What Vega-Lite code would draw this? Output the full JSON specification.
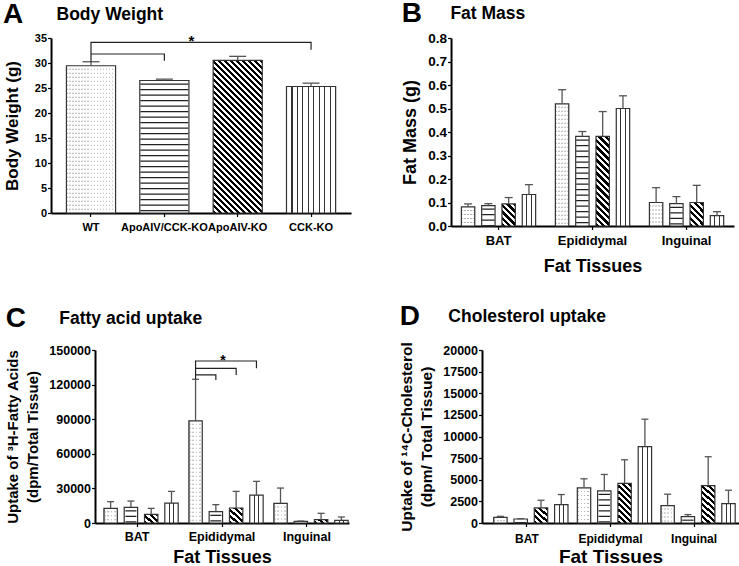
{
  "$schema": "https://vega.github.io/schema/vega-lite/v6.json",
  "background": "white",
  "padding": {"left": 3, "top": 0, "right": 0, "bottom": 0},
  "params": [
    {
      "name": "stripes",
      "value": [
        {"offset": 0, "color": "#000"}, {"offset": 0.01, "color": "#000"}, {"offset": 0.01, "color": "#fff"}, {"offset": 0.02, "color": "#fff"},
        {"offset": 0.02, "color": "#000"}, {"offset": 0.03, "color": "#000"}, {"offset": 0.03, "color": "#fff"}, {"offset": 0.04, "color": "#fff"},
        {"offset": 0.04, "color": "#000"}, {"offset": 0.05, "color": "#000"}, {"offset": 0.05, "color": "#fff"}, {"offset": 0.06, "color": "#fff"},
        {"offset": 0.06, "color": "#000"}, {"offset": 0.07, "color": "#000"}, {"offset": 0.07, "color": "#fff"}, {"offset": 0.08, "color": "#fff"},
        {"offset": 0.08, "color": "#000"}, {"offset": 0.09, "color": "#000"}, {"offset": 0.09, "color": "#fff"}, {"offset": 0.1, "color": "#fff"},
        {"offset": 0.1, "color": "#000"}, {"offset": 0.11, "color": "#000"}, {"offset": 0.11, "color": "#fff"}, {"offset": 0.12, "color": "#fff"},
        {"offset": 0.12, "color": "#000"}, {"offset": 0.13, "color": "#000"}, {"offset": 0.13, "color": "#fff"}, {"offset": 0.14, "color": "#fff"},
        {"offset": 0.14, "color": "#000"}, {"offset": 0.15, "color": "#000"}, {"offset": 0.15, "color": "#fff"}, {"offset": 0.16, "color": "#fff"},
        {"offset": 0.16, "color": "#000"}, {"offset": 0.17, "color": "#000"}, {"offset": 0.17, "color": "#fff"}, {"offset": 0.18, "color": "#fff"},
        {"offset": 0.18, "color": "#000"}, {"offset": 0.19, "color": "#000"}, {"offset": 0.19, "color": "#fff"}, {"offset": 0.2, "color": "#fff"},
        {"offset": 0.2, "color": "#000"}, {"offset": 0.21, "color": "#000"}, {"offset": 0.21, "color": "#fff"}, {"offset": 0.22, "color": "#fff"},
        {"offset": 0.22, "color": "#000"}, {"offset": 0.23, "color": "#000"}, {"offset": 0.23, "color": "#fff"}, {"offset": 0.24, "color": "#fff"},
        {"offset": 0.24, "color": "#000"}, {"offset": 0.25, "color": "#000"}, {"offset": 0.25, "color": "#fff"}, {"offset": 0.26, "color": "#fff"},
        {"offset": 0.26, "color": "#000"}, {"offset": 0.27, "color": "#000"}, {"offset": 0.27, "color": "#fff"}, {"offset": 0.28, "color": "#fff"},
        {"offset": 0.28, "color": "#000"}, {"offset": 0.29, "color": "#000"}, {"offset": 0.29, "color": "#fff"}, {"offset": 0.3, "color": "#fff"},
        {"offset": 0.3, "color": "#000"}, {"offset": 0.31, "color": "#000"}, {"offset": 0.31, "color": "#fff"}, {"offset": 0.32, "color": "#fff"},
        {"offset": 0.32, "color": "#000"}, {"offset": 0.33, "color": "#000"}, {"offset": 0.33, "color": "#fff"}, {"offset": 0.34, "color": "#fff"},
        {"offset": 0.34, "color": "#000"}, {"offset": 0.35, "color": "#000"}, {"offset": 0.35, "color": "#fff"}, {"offset": 0.36, "color": "#fff"},
        {"offset": 0.36, "color": "#000"}, {"offset": 0.37, "color": "#000"}, {"offset": 0.37, "color": "#fff"}, {"offset": 0.38, "color": "#fff"},
        {"offset": 0.38, "color": "#000"}, {"offset": 0.39, "color": "#000"}, {"offset": 0.39, "color": "#fff"}, {"offset": 0.4, "color": "#fff"},
        {"offset": 0.4, "color": "#000"}, {"offset": 0.41, "color": "#000"}, {"offset": 0.41, "color": "#fff"}, {"offset": 0.42, "color": "#fff"},
        {"offset": 0.42, "color": "#000"}, {"offset": 0.43, "color": "#000"}, {"offset": 0.43, "color": "#fff"}, {"offset": 0.44, "color": "#fff"},
        {"offset": 0.44, "color": "#000"}, {"offset": 0.45, "color": "#000"}, {"offset": 0.45, "color": "#fff"}, {"offset": 0.46, "color": "#fff"},
        {"offset": 0.46, "color": "#000"}, {"offset": 0.47, "color": "#000"}, {"offset": 0.47, "color": "#fff"}, {"offset": 0.48, "color": "#fff"},
        {"offset": 0.48, "color": "#000"}, {"offset": 0.49, "color": "#000"}, {"offset": 0.49, "color": "#fff"}, {"offset": 0.5, "color": "#fff"},
        {"offset": 0.5, "color": "#000"}, {"offset": 0.51, "color": "#000"}, {"offset": 0.51, "color": "#fff"}, {"offset": 0.52, "color": "#fff"},
        {"offset": 0.52, "color": "#000"}, {"offset": 0.53, "color": "#000"}, {"offset": 0.53, "color": "#fff"}, {"offset": 0.54, "color": "#fff"},
        {"offset": 0.54, "color": "#000"}, {"offset": 0.55, "color": "#000"}, {"offset": 0.55, "color": "#fff"}, {"offset": 0.56, "color": "#fff"},
        {"offset": 0.56, "color": "#000"}, {"offset": 0.57, "color": "#000"}, {"offset": 0.57, "color": "#fff"}, {"offset": 0.58, "color": "#fff"},
        {"offset": 0.58, "color": "#000"}, {"offset": 0.59, "color": "#000"}, {"offset": 0.59, "color": "#fff"}, {"offset": 0.6, "color": "#fff"},
        {"offset": 0.6, "color": "#000"}, {"offset": 0.61, "color": "#000"}, {"offset": 0.61, "color": "#fff"}, {"offset": 0.62, "color": "#fff"},
        {"offset": 0.62, "color": "#000"}, {"offset": 0.63, "color": "#000"}, {"offset": 0.63, "color": "#fff"}, {"offset": 0.64, "color": "#fff"},
        {"offset": 0.64, "color": "#000"}, {"offset": 0.65, "color": "#000"}, {"offset": 0.65, "color": "#fff"}, {"offset": 0.66, "color": "#fff"},
        {"offset": 0.66, "color": "#000"}, {"offset": 0.67, "color": "#000"}, {"offset": 0.67, "color": "#fff"}, {"offset": 0.68, "color": "#fff"},
        {"offset": 0.68, "color": "#000"}, {"offset": 0.69, "color": "#000"}, {"offset": 0.69, "color": "#fff"}, {"offset": 0.7, "color": "#fff"},
        {"offset": 0.7, "color": "#000"}, {"offset": 0.71, "color": "#000"}, {"offset": 0.71, "color": "#fff"}, {"offset": 0.72, "color": "#fff"},
        {"offset": 0.72, "color": "#000"}, {"offset": 0.73, "color": "#000"}, {"offset": 0.73, "color": "#fff"}, {"offset": 0.74, "color": "#fff"},
        {"offset": 0.74, "color": "#000"}, {"offset": 0.75, "color": "#000"}, {"offset": 0.75, "color": "#fff"}, {"offset": 0.76, "color": "#fff"},
        {"offset": 0.76, "color": "#000"}, {"offset": 0.77, "color": "#000"}, {"offset": 0.77, "color": "#fff"}, {"offset": 0.78, "color": "#fff"},
        {"offset": 0.78, "color": "#000"}, {"offset": 0.79, "color": "#000"}, {"offset": 0.79, "color": "#fff"}, {"offset": 0.8, "color": "#fff"},
        {"offset": 0.8, "color": "#000"}, {"offset": 0.81, "color": "#000"}, {"offset": 0.81, "color": "#fff"}, {"offset": 0.82, "color": "#fff"},
        {"offset": 0.82, "color": "#000"}, {"offset": 0.83, "color": "#000"}, {"offset": 0.83, "color": "#fff"}, {"offset": 0.84, "color": "#fff"},
        {"offset": 0.84, "color": "#000"}, {"offset": 0.85, "color": "#000"}, {"offset": 0.85, "color": "#fff"}, {"offset": 0.86, "color": "#fff"},
        {"offset": 0.86, "color": "#000"}, {"offset": 0.87, "color": "#000"}, {"offset": 0.87, "color": "#fff"}, {"offset": 0.88, "color": "#fff"},
        {"offset": 0.88, "color": "#000"}, {"offset": 0.89, "color": "#000"}, {"offset": 0.89, "color": "#fff"}, {"offset": 0.9, "color": "#fff"},
        {"offset": 0.9, "color": "#000"}, {"offset": 0.91, "color": "#000"}, {"offset": 0.91, "color": "#fff"}, {"offset": 0.92, "color": "#fff"},
        {"offset": 0.92, "color": "#000"}, {"offset": 0.93, "color": "#000"}, {"offset": 0.93, "color": "#fff"}, {"offset": 0.94, "color": "#fff"},
        {"offset": 0.94, "color": "#000"}, {"offset": 0.95, "color": "#000"}, {"offset": 0.95, "color": "#fff"}, {"offset": 0.96, "color": "#fff"},
        {"offset": 0.96, "color": "#000"}, {"offset": 0.97, "color": "#000"}, {"offset": 0.97, "color": "#fff"}, {"offset": 0.98, "color": "#fff"},
        {"offset": 0.98, "color": "#000"}, {"offset": 0.99, "color": "#000"}, {"offset": 0.99, "color": "#fff"}, {"offset": 1, "color": "#fff"}
      ]
    }
  ],
  "datasets": {
    "bw": [
      {"g": "WT", "mean": 29.45, "upper": 30.25},
      {"g": "ApoAIV/CCK-KO", "mean": 26.5, "upper": 26.77},
      {"g": "ApoAIV-KO", "mean": 30.52, "upper": 31.33},
      {"g": "CCK-KO", "mean": 25.3, "upper": 25.97}
    ],
    "bwBr": [
      {"b": 1, "o": 0, "g": "WT", "v": 30.25},
      {"b": 1, "o": 1, "g": "WT", "v": 34.14},
      {"b": 1, "o": 2, "g": "CCK-KO", "v": 34.14},
      {"b": 1, "o": 3, "g": "CCK-KO", "v": 32.67},
      {"b": 2, "o": 0, "g": "WT", "v": 31.8},
      {"b": 2, "o": 1, "g": "ApoAIV/CCK-KO", "v": 31.8},
      {"b": 2, "o": 2, "g": "ApoAIV/CCK-KO", "v": 30.46}
    ],
    "bwStar": [{"g": "ApoAIV/CCK-KO", "v": 34.14, "label": "*"}],
    "fm": [
      {"t": "BAT", "g": "WT", "mean": 0.081, "upper": 0.094},
      {"t": "BAT", "g": "ApoAIV/CCK-KO", "mean": 0.087, "upper": 0.095},
      {"t": "BAT", "g": "ApoAIV-KO", "mean": 0.094, "upper": 0.121},
      {"t": "BAT", "g": "CCK-KO", "mean": 0.134, "upper": 0.176},
      {"t": "Epididymal", "g": "WT", "mean": 0.52, "upper": 0.58},
      {"t": "Epididymal", "g": "ApoAIV/CCK-KO", "mean": 0.381, "upper": 0.402},
      {"t": "Epididymal", "g": "ApoAIV-KO", "mean": 0.381, "upper": 0.487},
      {"t": "Epididymal", "g": "CCK-KO", "mean": 0.5, "upper": 0.554},
      {"t": "Inguinal", "g": "WT", "mean": 0.1, "upper": 0.163},
      {"t": "Inguinal", "g": "ApoAIV/CCK-KO", "mean": 0.095, "upper": 0.125},
      {"t": "Inguinal", "g": "ApoAIV-KO", "mean": 0.1, "upper": 0.173},
      {"t": "Inguinal", "g": "CCK-KO", "mean": 0.044, "upper": 0.061}
    ],
    "fa": [
      {"t": "BAT", "g": "WT", "mean": 12700, "upper": 18500},
      {"t": "BAT", "g": "ApoAIV/CCK-KO", "mean": 13600, "upper": 19000},
      {"t": "BAT", "g": "ApoAIV-KO", "mean": 7500, "upper": 12700},
      {"t": "BAT", "g": "CCK-KO", "mean": 17300, "upper": 27400},
      {"t": "Epididymal", "g": "WT", "mean": 88600, "upper": 124600},
      {"t": "Epididymal", "g": "ApoAIV/CCK-KO", "mean": 9800, "upper": 15900},
      {"t": "Epididymal", "g": "ApoAIV-KO", "mean": 13000, "upper": 27400},
      {"t": "Epididymal", "g": "CCK-KO", "mean": 24200, "upper": 36100},
      {"t": "Inguinal", "g": "WT", "mean": 17000, "upper": 30300},
      {"t": "Inguinal", "g": "ApoAIV/CCK-KO", "mean": 1400, "upper": 1700},
      {"t": "Inguinal", "g": "ApoAIV-KO", "mean": 2900, "upper": 8400},
      {"t": "Inguinal", "g": "CCK-KO", "mean": 2300, "upper": 5200}
    ],
    "faBr": [
      {"b": 1, "o": 0, "t": "Epididymal", "g": "WT", "v": 124600},
      {"b": 1, "o": 1, "t": "Epididymal", "g": "WT", "v": 140480},
      {"b": 1, "o": 2, "t": "Epididymal", "g": "CCK-KO", "v": 140480},
      {"b": 1, "o": 3, "t": "Epididymal", "g": "CCK-KO", "v": 134100},
      {"b": 2, "o": 0, "t": "Epididymal", "g": "WT", "v": 134100},
      {"b": 2, "o": 1, "t": "Epididymal", "g": "ApoAIV-KO", "v": 134100},
      {"b": 2, "o": 2, "t": "Epididymal", "g": "ApoAIV-KO", "v": 128400},
      {"b": 3, "o": 0, "t": "Epididymal", "g": "WT", "v": 128400},
      {"b": 3, "o": 1, "t": "Epididymal", "g": "ApoAIV/CCK-KO", "v": 128400},
      {"b": 3, "o": 2, "t": "Epididymal", "g": "ApoAIV/CCK-KO", "v": 124000}
    ],
    "faStar": [{"t": "Epididymal", "g": "ApoAIV/CCK-KO", "v": 140480, "label": "*"}],
    "ch": [
      {"t": "BAT", "g": "WT", "mean": 660, "upper": 770},
      {"t": "BAT", "g": "ApoAIV/CCK-KO", "mean": 460, "upper": 500},
      {"t": "BAT", "g": "ApoAIV-KO", "mean": 1740, "upper": 2630},
      {"t": "BAT", "g": "CCK-KO", "mean": 2130, "upper": 3290},
      {"t": "Epididymal", "g": "WT", "mean": 4060, "upper": 5110},
      {"t": "Epididymal", "g": "ApoAIV/CCK-KO", "mean": 3720, "upper": 5610},
      {"t": "Epididymal", "g": "ApoAIV-KO", "mean": 4570, "upper": 7310},
      {"t": "Epididymal", "g": "CCK-KO", "mean": 8820, "upper": 12000},
      {"t": "Inguinal", "g": "WT", "mean": 2010, "upper": 3330},
      {"t": "Inguinal", "g": "ApoAIV/CCK-KO", "mean": 740, "upper": 970},
      {"t": "Inguinal", "g": "ApoAIV-KO", "mean": 4330, "upper": 7660},
      {"t": "Inguinal", "g": "CCK-KO", "mean": 2250, "upper": 3790}
    ]
  },
  "config": {
    "view": {"stroke": null},
    "font": "Liberation Sans",
    "axis": {
      "grid": false, "domainColor": "#000", "domainWidth": 2, "tickColor": "#000", "tickWidth": 1.2, "tickSize": 3.5,
      "labelFont": "Liberation Sans", "labelFontWeight": "bold", "labelColor": "#000", "labelPadding": 1,
      "titleFont": "Liberation Sans", "titleFontWeight": "bold", "titleColor": "#000"
    },
    "axisX": {"labelAngle": 0},
    "title": {
      "font": "Liberation Sans", "fontWeight": "bold", "fontSize": 28, "color": "#000",
      "subtitleFont": "Liberation Sans", "subtitleFontWeight": "bold", "subtitleFontSize": 17.5, "subtitleColor": "#000",
      "anchor": "start", "frame": "bounds", "subtitlePadding": -23, "offset": 3, "limit": 2000
    }
  },
  "center": true,
  "spacing": 26,
  "vconcat": [
    {
      "spacing": 50,
      "hconcat": [
        {
          "width": 300, "height": 175,
          "title": {"text": "A", "subtitle": "\u200b\u00a0\u00a0\u00a0\u00a0\u00a0\u00a0\u00a0\u00a0\u00a0\u00a0\u00a0Body Weight"},
          "data": {"name": "bw"},
          "encoding": {
            "x": {"field": "g", "type": "nominal", "scale": {"domain": ["WT", "ApoAIV/CCK-KO", "ApoAIV-KO", "CCK-KO"], "paddingInner": 0.33, "paddingOuter": 0.21}, "axis": {"title": null, "labelFontSize": 11, "labelPadding": 5}},
            "y": {"field": "mean", "type": "quantitative", "title": "Body Weight (g)", "scale": {"domain": [0, 35]}, "axis": {"values": [0, 5, 10, 15, 20, 25, 30, 35], "format": "d", "labelFontSize": 11, "titleFontSize": 17, "titlePadding": 14, "titleX": -30, "titleY": 87.5}}
          },
          "layer": [
            {"mark": {"type": "bar", "fill": "white"}},
            {"transform": [{"filter": "datum.g === 'WT'"}], "mark": {"type": "bar", "fill": {"expr": "{gradient:'linear',x1:0,y1:0,x2:150/49,y2:0,stops:stripes}"}, "fillOpacity": 0.3}},
            {"transform": [{"filter": "datum.g === 'WT'"}], "mark": {"type": "rule", "stroke": "white", "strokeWidth": 48, "strokeDash": [3, 1]}, "encoding": {"y2": {"datum": 0}}},
            {"transform": [{"filter": "datum.g === 'ApoAIV/CCK-KO'"}], "mark": {"type": "rule", "stroke": "#222", "strokeWidth": 48, "strokeDash": [1.2, 4.3], "strokeDashOffset": -3}, "encoding": {"y2": {"datum": 0}}},
            {"transform": [{"filter": "datum.g === 'ApoAIV-KO'"}], "mark": {"type": "bar", "fill": {"expr": "{gradient:'linear',x1:0,y1:1,x2:49*300/(2401+pow(datum.mean*5,2)),y2:1-datum.mean*5*300/(2401+pow(datum.mean*5,2)),stops:stripes}"}}},
            {"transform": [{"filter": "datum.g === 'CCK-KO'"}], "mark": {"type": "bar", "fill": {"gradient": "linear", "x1": 0, "y1": 0, "x2": 1, "y2": 0, "stops": [
              {"offset": 0, "color": "#fff"}, {"offset": 0.099, "color": "#fff"}, {"offset": 0.099, "color": "#333"}, {"offset": 0.123, "color": "#333"},
              {"offset": 0.123, "color": "#fff"}, {"offset": 0.21, "color": "#fff"}, {"offset": 0.21, "color": "#333"}, {"offset": 0.234, "color": "#333"},
              {"offset": 0.234, "color": "#fff"}, {"offset": 0.321, "color": "#fff"}, {"offset": 0.321, "color": "#333"}, {"offset": 0.345, "color": "#333"},
              {"offset": 0.345, "color": "#fff"}, {"offset": 0.432, "color": "#fff"}, {"offset": 0.432, "color": "#333"}, {"offset": 0.456, "color": "#333"},
              {"offset": 0.456, "color": "#fff"}, {"offset": 0.544, "color": "#fff"}, {"offset": 0.544, "color": "#333"}, {"offset": 0.568, "color": "#333"},
              {"offset": 0.568, "color": "#fff"}, {"offset": 0.655, "color": "#fff"}, {"offset": 0.655, "color": "#333"}, {"offset": 0.679, "color": "#333"},
              {"offset": 0.679, "color": "#fff"}, {"offset": 0.766, "color": "#fff"}, {"offset": 0.766, "color": "#333"}, {"offset": 0.79, "color": "#333"},
              {"offset": 0.79, "color": "#fff"}, {"offset": 0.877, "color": "#fff"}, {"offset": 0.877, "color": "#333"}, {"offset": 0.901, "color": "#333"},
              {"offset": 0.901, "color": "#fff"}, {"offset": 1, "color": "#fff"}]}}},
            {"mark": {"type": "bar", "fillOpacity": 0, "stroke": "#333", "strokeWidth": 1.2}},
            {"mark": {"type": "rule", "stroke": "#555", "strokeWidth": 1.3}, "encoding": {"y": {"field": "upper", "type": "quantitative", "title": "Body Weight (g)"}, "y2": {"field": "mean"}}},
            {"mark": {"type": "tick", "color": "#555", "thickness": 1.3, "size": 17, "opacity": 1}, "encoding": {"y": {"field": "upper", "type": "quantitative", "title": "Body Weight (g)"}}},
            {"data": {"name": "bwBr"}, "mark": {"type": "line", "color": "#222", "strokeWidth": 1.2}, "encoding": {"y": {"field": "v", "type": "quantitative", "title": "Body Weight (g)"}, "detail": {"field": "b", "type": "nominal"}, "order": {"field": "o", "type": "quantitative"}}},
            {"data": {"name": "bwStar"}, "mark": {"type": "text", "fontSize": 15, "fontWeight": "bold", "dx": 27, "dy": 4, "baseline": "alphabetic", "color": "#000"}, "encoding": {"y": {"field": "v", "type": "quantitative", "title": "Body Weight (g)"}, "text": {"field": "label"}}}
          ]
        },
        {
          "width": 283, "height": 188,
          "title": {"text": "B", "subtitle": "\u200b\u00a0\u00a0\u00a0\u00a0\u00a0\u00a0\u00a0\u00a0\u00a0\u00a0Fat Mass\u00a0\u00a0\u00a0\u00a0\u00a0\u00a0\u00a0\u00a0\u00a0\u00a0\u00a0\u00a0\u00a0\u00a0\u00a0\u00a0\u00a0\u00a0\u00a0\u00a0\u00a0\u00a0\u00a0\u00a0\u00a0\u00a0\u00a0\u00a0\u00a0\u00a0\u00a0\u00a0\u00a0\u00a0\u00a0\u00a0\u00a0\u00a0\u00a0\u00a0\u00a0\u00a0\u00a0\u00a0\u00a0\u00a0\u00a0\u00a0\u00a0\u00a0\u00a0\u00a0\u00a0\u200b"},
          "data": {"name": "fm"},
          "encoding": {
            "x": {"field": "t", "type": "nominal", "scale": {"domain": ["BAT", "Epididymal", "Inguinal"], "paddingInner": 0.21, "paddingOuter": 0.11}, "axis": {"title": "Fat Tissues", "labelFontSize": 13, "labelPadding": 5, "titleFontSize": 18, "titlePadding": 10}},
            "xOffset": {"field": "g", "type": "nominal", "scale": {"domain": ["WT", "ApoAIV/CCK-KO", "ApoAIV-KO", "CCK-KO"], "paddingInner": 0.34, "paddingOuter": 0}},
            "y": {"field": "mean", "type": "quantitative", "title": "Fat Mass (g)", "scale": {"domain": [0, 0.8]}, "axis": {"values": [0, 0.1, 0.2, 0.3, 0.4, 0.5, 0.6, 0.7, 0.8], "format": ".1f", "labelFontSize": 13.5, "titleFontSize": 18, "titlePadding": 8}}
          },
          "layer": [
            {"mark": {"type": "bar", "fill": "white"}},
            {"transform": [{"filter": "datum.g === 'WT'"}], "mark": {"type": "bar", "fill": {"expr": "{gradient:'linear',x1:0,y1:0,x2:150/13.4,y2:0,stops:stripes}"}, "fillOpacity": 0.3}},
            {"transform": [{"filter": "datum.g === 'WT'"}], "mark": {"type": "rule", "stroke": "white", "strokeWidth": 12.5, "strokeDash": [3, 1]}, "encoding": {"y2": {"datum": 0}}},
            {"transform": [{"filter": "datum.g === 'ApoAIV/CCK-KO'"}], "mark": {"type": "rule", "stroke": "#222", "strokeWidth": 12.5, "strokeDash": [1.2, 4.3], "strokeDashOffset": -3}, "encoding": {"y2": {"datum": 0}}},
            {"transform": [{"filter": "datum.g === 'ApoAIV-KO'"}], "mark": {"type": "bar", "fill": {"expr": "{gradient:'linear',x1:0,y1:1,x2:13.4*325/(179.56+pow(datum.mean*235,2)),y2:1-datum.mean*235*325/(179.56+pow(datum.mean*235,2)),stops:stripes}"}}},
            {"transform": [{"filter": "datum.g === 'CCK-KO'"}], "mark": {"type": "bar", "fill": {"gradient": "linear", "x1": 0, "y1": 0, "x2": 1, "y2": 0, "stops": [
              {"offset": 0, "color": "#fff"}, {"offset": 0.3, "color": "#fff"}, {"offset": 0.3, "color": "#333"}, {"offset": 0.37, "color": "#333"},
              {"offset": 0.37, "color": "#fff"}, {"offset": 0.63, "color": "#fff"}, {"offset": 0.63, "color": "#333"}, {"offset": 0.7, "color": "#333"},
              {"offset": 0.7, "color": "#fff"}, {"offset": 1, "color": "#fff"}]}}},
            {"mark": {"type": "bar", "fillOpacity": 0, "stroke": "#333", "strokeWidth": 1.2}},
            {"mark": {"type": "rule", "stroke": "#555", "strokeWidth": 1.3}, "encoding": {"y": {"field": "upper", "type": "quantitative", "title": "Fat Mass (g)"}, "y2": {"field": "mean"}}},
            {"mark": {"type": "tick", "color": "#555", "thickness": 1.3, "size": 8, "opacity": 1}, "encoding": {"y": {"field": "upper", "type": "quantitative", "title": "Fat Mass (g)"}}}
          ]
        }
      ]
    },
    {
      "spacing": 50,
      "hconcat": [
        {
          "width": 254, "height": 173,
          "title": {"text": "C", "subtitle": "\u200b\u00a0\u00a0\u00a0\u00a0\u00a0\u00a0\u00a0\u00a0\u00a0\u00a0\u00a0Fatty acid uptake", "offset": 11},
          "data": {"name": "fa"},
          "encoding": {
            "x": {"field": "t", "type": "nominal", "scale": {"domain": ["BAT", "Epididymal", "Inguinal"], "paddingInner": 0.22, "paddingOuter": 0.105}, "axis": {"title": "Fat Tissues", "labelFontSize": 12.5, "labelPadding": 4, "titleFontSize": 18, "titlePadding": 5}},
            "xOffset": {"field": "g", "type": "nominal", "scale": {"domain": ["WT", "ApoAIV/CCK-KO", "ApoAIV-KO", "CCK-KO"], "paddingInner": 0.35, "paddingOuter": 0}},
            "y": {"field": "mean", "type": "quantitative", "title": ["Uptake of \u00b3H-Fatty Acids", "(dpm/Total Tissue)"], "scale": {"domain": [0, 150000]}, "axis": {"values": [0, 30000, 60000, 90000, 120000, 150000], "format": "d", "labelFontSize": 12.5, "titleFontSize": 15, "titleLineHeight": 20, "titlePadding": 8}}
          },
          "layer": [
            {"mark": {"type": "bar", "fill": "white"}},
            {"transform": [{"filter": "datum.g === 'WT'"}], "mark": {"type": "bar", "fill": {"expr": "{gradient:'linear',x1:0,y1:0,x2:150/11.75,y2:0,stops:stripes}"}, "fillOpacity": 0.3}},
            {"transform": [{"filter": "datum.g === 'WT'"}], "mark": {"type": "rule", "stroke": "white", "strokeWidth": 11, "strokeDash": [3, 1]}, "encoding": {"y2": {"datum": 0}}},
            {"transform": [{"filter": "datum.g === 'ApoAIV/CCK-KO'"}], "mark": {"type": "rule", "stroke": "#222", "strokeWidth": 11, "strokeDash": [1.2, 4.3], "strokeDashOffset": -3}, "encoding": {"y2": {"datum": 0}}},
            {"transform": [{"filter": "datum.g === 'ApoAIV-KO'"}], "mark": {"type": "bar", "fill": {"expr": "{gradient:'linear',x1:0,y1:1,x2:11.75*300/(138.06+pow(datum.mean*0.0011533,2)),y2:1-datum.mean*0.0011533*300/(138.06+pow(datum.mean*0.0011533,2)),stops:stripes}"}}},
            {"transform": [{"filter": "datum.g === 'CCK-KO'"}], "mark": {"type": "bar", "fill": {"gradient": "linear", "x1": 0, "y1": 0, "x2": 1, "y2": 0, "stops": [
              {"offset": 0, "color": "#fff"}, {"offset": 0.3, "color": "#fff"}, {"offset": 0.3, "color": "#333"}, {"offset": 0.37, "color": "#333"},
              {"offset": 0.37, "color": "#fff"}, {"offset": 0.63, "color": "#fff"}, {"offset": 0.63, "color": "#333"}, {"offset": 0.7, "color": "#333"},
              {"offset": 0.7, "color": "#fff"}, {"offset": 1, "color": "#fff"}]}}},
            {"mark": {"type": "bar", "fillOpacity": 0, "stroke": "#333", "strokeWidth": 1.2}},
            {"mark": {"type": "rule", "stroke": "#555", "strokeWidth": 1.3}, "encoding": {"y": {"field": "upper", "type": "quantitative", "title": ["Uptake of \u00b3H-Fatty Acids", "(dpm/Total Tissue)"]}, "y2": {"field": "mean"}}},
            {"mark": {"type": "tick", "color": "#555", "thickness": 1.3, "size": 7, "opacity": 1}, "encoding": {"y": {"field": "upper", "type": "quantitative", "title": ["Uptake of \u00b3H-Fatty Acids", "(dpm/Total Tissue)"]}}},
            {"data": {"name": "faBr"}, "mark": {"type": "line", "color": "#222", "strokeWidth": 1.2}, "encoding": {"y": {"field": "v", "type": "quantitative", "title": ["Uptake of \u00b3H-Fatty Acids", "(dpm/Total Tissue)"]}, "detail": {"field": "b", "type": "nominal"}, "order": {"field": "o", "type": "quantitative"}}},
            {"data": {"name": "faStar"}, "mark": {"type": "text", "fontSize": 14, "fontWeight": "bold", "dx": 7, "dy": 4, "baseline": "alphabetic", "color": "#000"}, "encoding": {"y": {"field": "v", "type": "quantitative", "title": ["Uptake of \u00b3H-Fatty Acids", "(dpm/Total Tissue)"]}, "text": {"field": "label"}}}
          ]
        },
        {
          "width": 257, "height": 173,
          "title": {"text": "D", "subtitle": "\u200b\u00a0\u00a0\u00a0\u00a0\u00a0\u00a0\u00a0\u00a0\u00a0\u00a0Cholesterol uptake", "offset": 11},
          "data": {"name": "ch"},
          "encoding": {
            "x": {"field": "t", "type": "nominal", "scale": {"domain": ["BAT", "Epididymal", "Inguinal"], "paddingInner": 0.206, "paddingOuter": 0.14}, "axis": {"title": "Fat Tissues", "labelFontSize": 12, "labelPadding": 7, "titleFontSize": 19, "titlePadding": 3}},
            "xOffset": {"field": "g", "type": "nominal", "scale": {"domain": ["WT", "ApoAIV/CCK-KO", "ApoAIV-KO", "CCK-KO"], "paddingInner": 0.31, "paddingOuter": 0}},
            "y": {"field": "mean", "type": "quantitative", "title": ["Uptake of \u00b9\u2074C-Cholesterol", "(dpm/ Total Tissue)"], "scale": {"domain": [0, 20000]}, "axis": {"values": [0, 2500, 5000, 7500, 10000, 12500, 15000, 17500, 20000], "format": "d", "labelFontSize": 12.5, "titleFontSize": 15.5, "titleLineHeight": 20, "titlePadding": 8}}
          },
          "layer": [
            {"mark": {"type": "bar", "fill": "white"}},
            {"transform": [{"filter": "datum.g === 'WT'"}], "mark": {"type": "bar", "fill": {"expr": "{gradient:'linear',x1:0,y1:0,x2:150/12.4,y2:0,stops:stripes}"}, "fillOpacity": 0.3}},
            {"transform": [{"filter": "datum.g === 'WT'"}], "mark": {"type": "rule", "stroke": "white", "strokeWidth": 11.5, "strokeDash": [3, 1]}, "encoding": {"y2": {"datum": 0}}},
            {"transform": [{"filter": "datum.g === 'ApoAIV/CCK-KO'"}], "mark": {"type": "rule", "stroke": "#222", "strokeWidth": 11.5, "strokeDash": [1.2, 4.3], "strokeDashOffset": -3}, "encoding": {"y2": {"datum": 0}}},
            {"transform": [{"filter": "datum.g === 'ApoAIV-KO'"}], "mark": {"type": "bar", "fill": {"expr": "{gradient:'linear',x1:0,y1:1,x2:12.4*300/(153.76+pow(datum.mean*0.00865,2)),y2:1-datum.mean*0.00865*300/(153.76+pow(datum.mean*0.00865,2)),stops:stripes}"}}},
            {"transform": [{"filter": "datum.g === 'CCK-KO'"}], "mark": {"type": "bar", "fill": {"gradient": "linear", "x1": 0, "y1": 0, "x2": 1, "y2": 0, "stops": [
              {"offset": 0, "color": "#fff"}, {"offset": 0.3, "color": "#fff"}, {"offset": 0.3, "color": "#333"}, {"offset": 0.37, "color": "#333"},
              {"offset": 0.37, "color": "#fff"}, {"offset": 0.63, "color": "#fff"}, {"offset": 0.63, "color": "#333"}, {"offset": 0.7, "color": "#333"},
              {"offset": 0.7, "color": "#fff"}, {"offset": 1, "color": "#fff"}]}}},
            {"mark": {"type": "bar", "fillOpacity": 0, "stroke": "#333", "strokeWidth": 1.2}},
            {"mark": {"type": "rule", "stroke": "#555", "strokeWidth": 1.3}, "encoding": {"y": {"field": "upper", "type": "quantitative", "title": ["Uptake of \u00b9\u2074C-Cholesterol", "(dpm/ Total Tissue)"]}, "y2": {"field": "mean"}}},
            {"mark": {"type": "tick", "color": "#555", "thickness": 1.3, "size": 7, "opacity": 1}, "encoding": {"y": {"field": "upper", "type": "quantitative", "title": ["Uptake of \u00b9\u2074C-Cholesterol", "(dpm/ Total Tissue)"]}}}
          ]
        }
      ]
    }
  ]
}
